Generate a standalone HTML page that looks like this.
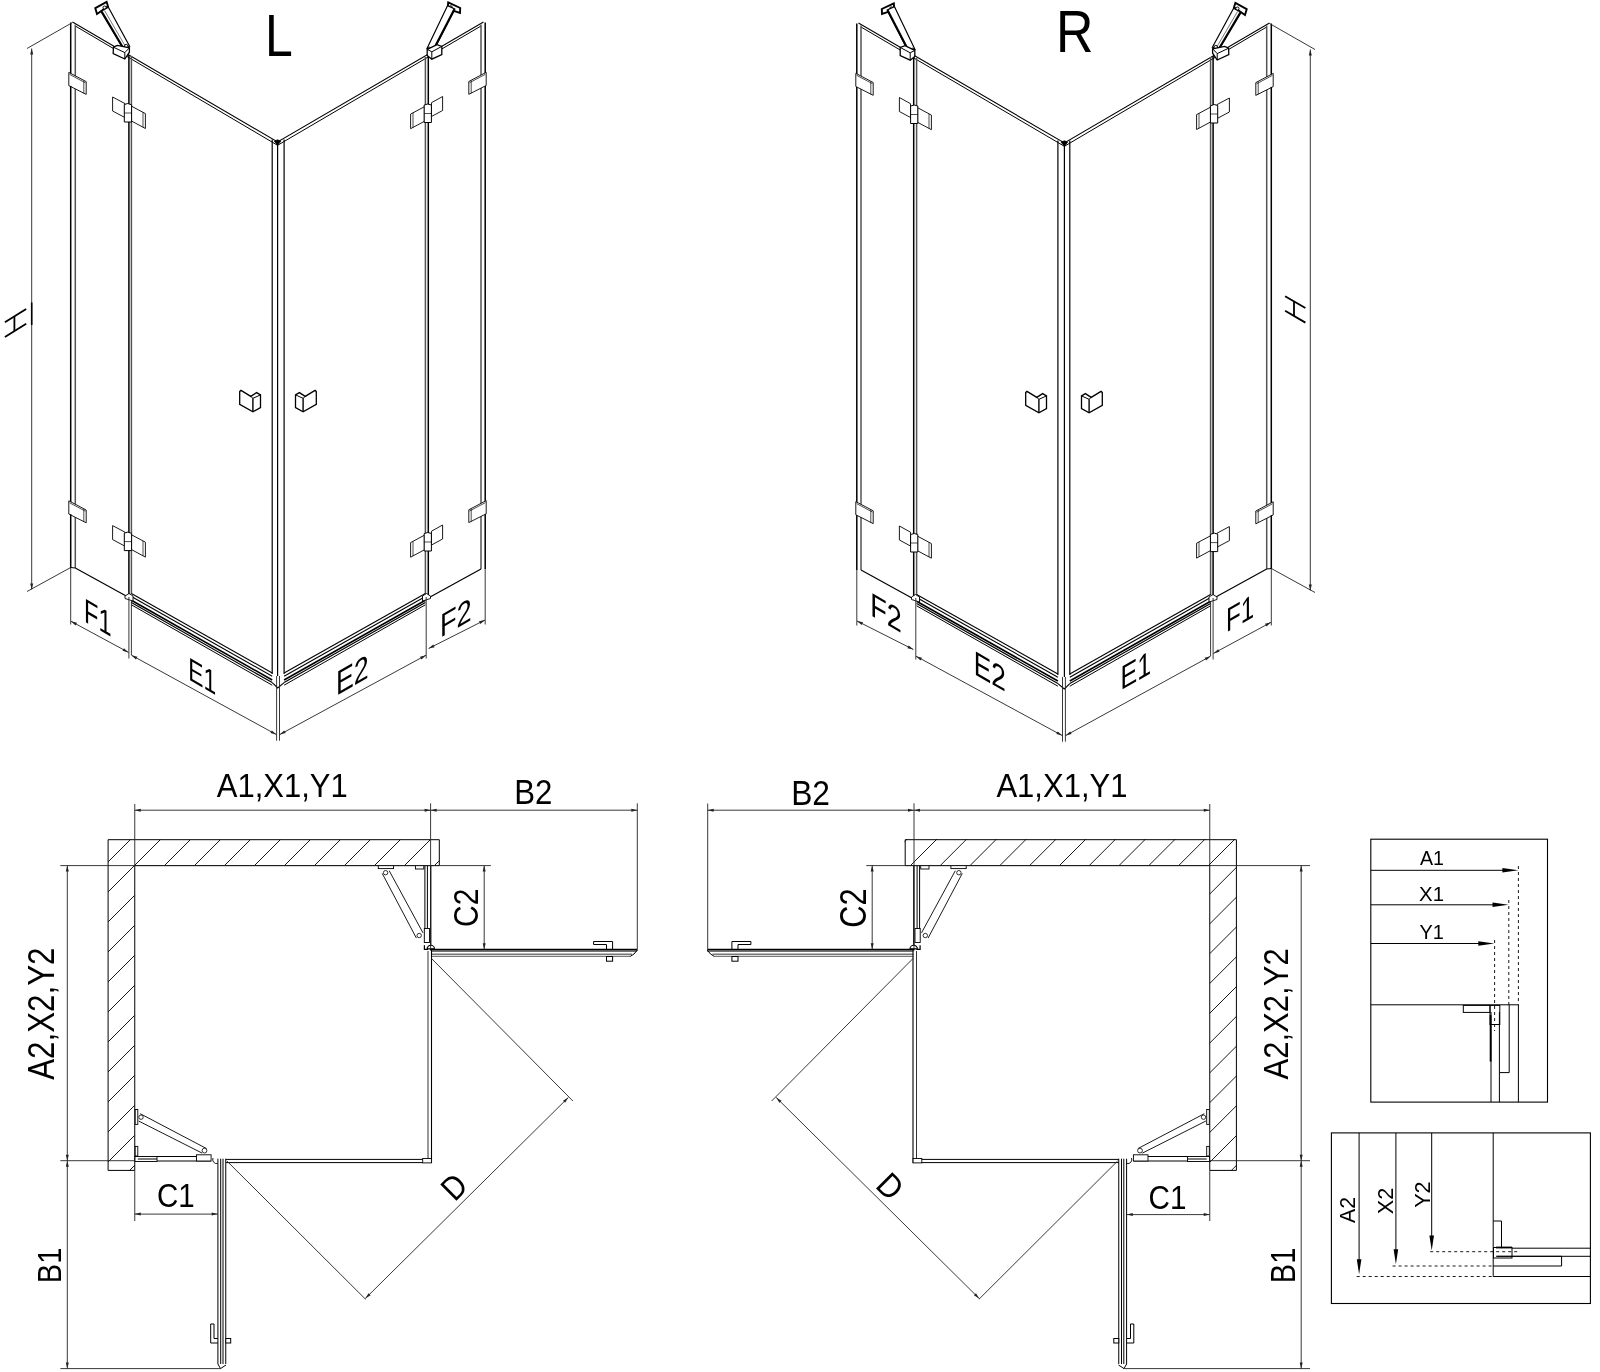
<!DOCTYPE html>
<html><head><meta charset="utf-8"><style>
html,body{margin:0;padding:0;background:#fff;width:1600px;height:1372px;overflow:hidden}
svg{display:block;will-change:transform}
text{font-family:"Liberation Sans",sans-serif}
</style></head><body>
<svg width="1600" height="1372" viewBox="0 0 1600 1372">
<rect width="1600" height="1372" fill="#fff"/>
<g stroke-linecap="butt" stroke-linejoin="miter">
<g><polyline points="72.50,22.00 277.60,142.00 483.50,22.00" fill="none" stroke="#000" stroke-width="1.05"/><polyline points="75.30,26.00 277.60,145.30 481.00,26.00" fill="none" stroke="#000" stroke-width="1.0"/><polygon points="274.40,141.20 277.60,139.80 280.80,141.20 277.60,145.20" fill="#000" stroke="#000" stroke-width="0.8"/><line x1="70.7" y1="22.5" x2="70.7" y2="568" stroke="#000" stroke-width="1.5"/><line x1="75.3" y1="24.5" x2="75.3" y2="568" stroke="#555" stroke-width="1.5"/><line x1="128.9" y1="55" x2="128.9" y2="597" stroke="#000" stroke-width="1.5"/><line x1="131.4" y1="56" x2="131.4" y2="594" stroke="#555" stroke-width="1.5"/><line x1="272.2" y1="139.5" x2="272.2" y2="674" stroke="#000" stroke-width="1.2"/><line x1="277.6" y1="142" x2="277.6" y2="676" stroke="#000" stroke-width="1.2"/><line x1="284.1" y1="139.5" x2="284.1" y2="674" stroke="#000" stroke-width="1.2"/><line x1="425.4" y1="57" x2="425.4" y2="597" stroke="#555" stroke-width="1.5"/><line x1="428.3" y1="56" x2="428.3" y2="597" stroke="#000" stroke-width="1.5"/><line x1="481.0" y1="24.5" x2="481.0" y2="569" stroke="#555" stroke-width="1.5"/><line x1="485.2" y1="22.5" x2="485.2" y2="569" stroke="#000" stroke-width="1.5"/><line x1="75.3" y1="568" x2="128.9" y2="597.5" stroke="#000" stroke-width="1.2"/><line x1="70.7" y1="567.5" x2="75.3" y2="568" stroke="#000" stroke-width="1.2"/><line x1="481.0" y1="569" x2="428.3" y2="598" stroke="#000" stroke-width="1.2"/><line x1="131.4" y1="593.5" x2="272.2" y2="672.9" stroke="#000" stroke-width="1.1"/><line x1="131.4" y1="596.5" x2="272.2" y2="676.2" stroke="#000" stroke-width="1.1"/><line x1="131.4" y1="600.2" x2="272.2" y2="680.0" stroke="#000" stroke-width="1.6"/><line x1="131.4" y1="602.6" x2="272.2" y2="682.6" stroke="#000" stroke-width="1.2"/><line x1="131.4" y1="604.8" x2="272.2" y2="685.2" stroke="#000" stroke-width="1.0"/><polyline points="272.20,682.60 277.70,688.00 284.10,682.60" fill="none" stroke="#000" stroke-width="1.1"/><line x1="425.4" y1="593.5" x2="284.1" y2="672.9" stroke="#000" stroke-width="1.1"/><line x1="425.4" y1="596.5" x2="284.1" y2="676.2" stroke="#000" stroke-width="1.1"/><line x1="425.4" y1="600.2" x2="284.1" y2="680.0" stroke="#000" stroke-width="1.6"/><line x1="425.4" y1="602.6" x2="284.1" y2="682.6" stroke="#000" stroke-width="1.2"/><line x1="425.4" y1="604.8" x2="284.1" y2="685.2" stroke="#000" stroke-width="1.0"/><polygon points="125.00,596.00 129.00,593.50 133.00,596.00 133.00,601.00 125.00,598.50" fill="#fff" stroke="#000" stroke-width="0.9"/><polygon points="430.50,596.00 426.50,593.50 422.50,596.00 422.50,601.00 430.50,598.50" fill="#fff" stroke="#000" stroke-width="0.9"/><line x1="70.7" y1="568" x2="70.7" y2="624.5" stroke="#222" stroke-width="0.9"/><line x1="128.9" y1="597" x2="128.9" y2="658.5" stroke="#222" stroke-width="0.9"/><line x1="131.4" y1="601" x2="131.4" y2="655" stroke="#222" stroke-width="0.9"/><line x1="276.6" y1="676" x2="276.6" y2="740.7" stroke="#222" stroke-width="0.9"/><line x1="279.5" y1="676" x2="279.5" y2="740.7" stroke="#222" stroke-width="0.9"/><line x1="426.2" y1="597" x2="426.2" y2="658.5" stroke="#222" stroke-width="0.9"/><line x1="485.2" y1="569" x2="485.2" y2="624.5" stroke="#222" stroke-width="0.9"/><line x1="27" y1="48.5" x2="72.5" y2="22.5" stroke="#222" stroke-width="0.9"/><line x1="27" y1="591.5" x2="70.7" y2="567.5" stroke="#222" stroke-width="0.9"/><line x1="31.7" y1="48.5" x2="31.7" y2="589.5" stroke="#222" stroke-width="0.9"/><polygon points="31.70,48.50 33.20,54.50 30.20,54.50" fill="#222"/><polygon points="31.70,589.50 30.20,583.50 33.20,583.50" fill="#222"/><line x1="71" y1="621.3" x2="128.5" y2="652.4" stroke="#222" stroke-width="0.9"/><polygon points="71.00,621.30 76.99,622.84 75.56,625.47" fill="#222"/><polygon points="128.50,652.40 122.51,650.86 123.94,648.23" fill="#222"/><line x1="131.4" y1="655.2" x2="276.4" y2="734.6" stroke="#222" stroke-width="0.9"/><polygon points="131.40,655.20 137.38,656.77 135.94,659.40" fill="#222"/><polygon points="276.40,734.60 270.42,733.03 271.86,730.40" fill="#222"/><line x1="279.7" y1="734.6" x2="426" y2="655.2" stroke="#222" stroke-width="0.9"/><polygon points="279.70,734.60 284.26,730.42 285.69,733.06" fill="#222"/><polygon points="426.00,655.20 421.44,659.38 420.01,656.74" fill="#222"/><line x1="428.6" y1="648.5" x2="485" y2="620" stroke="#222" stroke-width="0.9"/><polygon points="428.60,648.50 433.28,644.46 434.63,647.13" fill="#222"/><polygon points="485.00,620.00 480.32,624.04 478.97,621.37" fill="#222"/><polygon points="68.80,72.40 86.20,81.60 86.20,94.40 68.80,85.60" fill="#fff" stroke="#000" stroke-width="0.9"/><line x1="83.8" y1="80.60000000000001" x2="83.8" y2="93.4" stroke="#000" stroke-width="0.7"/><line x1="69.6" y1="74.4" x2="85.4" y2="82.80000000000001" stroke="#000" stroke-width="0.7"/><line x1="70.7" y1="85.9" x2="70.7" y2="86.9" stroke="#000" stroke-width="1.5"/><polygon points="68.80,500.80 86.20,510.00 86.20,522.80 68.80,514.00" fill="#fff" stroke="#000" stroke-width="0.9"/><line x1="83.8" y1="509.0" x2="83.8" y2="521.8" stroke="#000" stroke-width="0.7"/><line x1="69.6" y1="502.8" x2="85.4" y2="511.2" stroke="#000" stroke-width="0.7"/><line x1="70.7" y1="514.3" x2="70.7" y2="515.3" stroke="#000" stroke-width="1.5"/><polygon points="112.60,97.00 125.00,103.60 125.00,117.60 112.60,111.00" fill="#fff" stroke="#000" stroke-width="0.9"/><polygon points="131.50,106.20 145.40,113.60 145.40,128.50 131.50,121.00" fill="#fff" stroke="#000" stroke-width="0.9"/><line x1="143" y1="112.3" x2="143" y2="127.2" stroke="#000" stroke-width="0.7"/><polygon points="124.30,104.50 127.80,103.50 131.60,104.80 131.60,122.00 124.30,122.00" fill="#fff" stroke="#000" stroke-width="1.0"/><line x1="124.3" y1="113" x2="131.6" y2="113" stroke="#000" stroke-width="0.7"/><polygon points="112.60,525.60 125.00,532.20 125.00,546.20 112.60,539.60" fill="#fff" stroke="#000" stroke-width="0.9"/><polygon points="131.50,534.80 145.40,542.20 145.40,557.10 131.50,549.60" fill="#fff" stroke="#000" stroke-width="0.9"/><line x1="143" y1="540.9" x2="143" y2="555.8000000000001" stroke="#000" stroke-width="0.7"/><polygon points="124.30,533.10 127.80,532.10 131.60,533.40 131.60,550.60 124.30,550.60" fill="#fff" stroke="#000" stroke-width="1.0"/><line x1="124.3" y1="541.6" x2="131.6" y2="541.6" stroke="#000" stroke-width="0.7"/><polygon points="486.20,72.30 468.80,81.50 468.80,94.30 486.20,85.50" fill="#fff" stroke="#000" stroke-width="0.9"/><line x1="471.2" y1="80.5" x2="471.2" y2="93.3" stroke="#000" stroke-width="0.7"/><line x1="485.4" y1="74.3" x2="469.6" y2="82.7" stroke="#000" stroke-width="0.7"/><polygon points="486.20,500.60 468.80,509.80 468.80,522.60 486.20,513.80" fill="#fff" stroke="#000" stroke-width="0.9"/><line x1="471.2" y1="508.8" x2="471.2" y2="521.6" stroke="#000" stroke-width="0.7"/><line x1="485.4" y1="502.6" x2="469.6" y2="511.0" stroke="#000" stroke-width="0.7"/><polygon points="442.60,96.50 431.50,102.70 431.50,116.50 442.60,110.50" fill="#fff" stroke="#000" stroke-width="0.9"/><polygon points="424.40,106.70 410.60,114.10 410.60,128.70 424.40,121.30" fill="#fff" stroke="#000" stroke-width="0.9"/><line x1="413" y1="112.8" x2="413" y2="127.5" stroke="#000" stroke-width="0.7"/><polygon points="424.20,105.00 427.80,104.00 431.40,105.00 431.40,122.50 424.20,122.50" fill="#fff" stroke="#000" stroke-width="1.0"/><line x1="424.2" y1="113.5" x2="431.4" y2="113.5" stroke="#000" stroke-width="0.7"/><polygon points="442.60,525.00 431.50,531.20 431.50,545.00 442.60,539.00" fill="#fff" stroke="#000" stroke-width="0.9"/><polygon points="424.40,535.20 410.60,542.60 410.60,557.20 424.40,549.80" fill="#fff" stroke="#000" stroke-width="0.9"/><line x1="413" y1="541.3" x2="413" y2="556" stroke="#000" stroke-width="0.7"/><polygon points="424.20,533.50 427.80,532.50 431.40,533.50 431.40,551.00 424.20,551.00" fill="#fff" stroke="#000" stroke-width="1.0"/><line x1="424.2" y1="542" x2="431.4" y2="542" stroke="#000" stroke-width="0.7"/><polygon points="95.30,8.20 106.60,1.80 108.00,6.40 97.00,14.00" fill="#fff" stroke="#000" stroke-width="1.9"/><circle cx="104.6" cy="7.6" r="1.6" fill="#fff" stroke="#000" stroke-width="1.0"/><polygon points="101.20,11.20 108.40,7.20 129.60,46.30 122.40,47.20" fill="#fff" stroke="#000" stroke-width="1.2"/><line x1="101.6" y1="11.6" x2="122.6" y2="47.0" stroke="#000" stroke-width="2.2"/><line x1="104.5" y1="10.5" x2="125.5" y2="46.5" stroke="#555" stroke-width="0.8"/><circle cx="126.2" cy="46.2" r="1.8" fill="#fff" stroke="#000" stroke-width="1.0"/><polygon points="113.40,47.20 117.40,45.40 129.40,47.80 129.40,52.20 124.80,59.00 113.20,53.60" fill="#fff" stroke="#000" stroke-width="1.3"/><line x1="113.4" y1="47.2" x2="124.8" y2="52.6" stroke="#000" stroke-width="1.0"/><line x1="124.8" y1="52.6" x2="129.4" y2="47.8" stroke="#000" stroke-width="1.0"/><line x1="124.8" y1="52.6" x2="124.8" y2="59.0" stroke="#000" stroke-width="1.0"/><polygon points="448.20,2.40 460.20,8.00 460.00,13.00 447.60,8.80" fill="#fff" stroke="#000" stroke-width="1.9"/><circle cx="450.6" cy="7.4" r="1.6" fill="#fff" stroke="#000" stroke-width="1.0"/><polygon points="447.60,5.60 454.80,9.00 434.00,49.60 427.00,48.60" fill="#fff" stroke="#000" stroke-width="1.2"/><line x1="454.4" y1="9.2" x2="433.6" y2="49.4" stroke="#000" stroke-width="2.2"/><circle cx="429.6" cy="49.0" r="1.8" fill="#fff" stroke="#000" stroke-width="1.0"/><polygon points="427.20,49.40 437.00,44.60 441.80,46.40 441.80,54.60 431.80,59.20 427.20,55.40" fill="#fff" stroke="#000" stroke-width="1.3"/><line x1="427.2" y1="49.4" x2="431.8" y2="51.8" stroke="#000" stroke-width="1.0"/><line x1="431.8" y1="51.8" x2="441.8" y2="46.4" stroke="#000" stroke-width="1.0"/><line x1="431.8" y1="51.8" x2="431.8" y2="59.2" stroke="#000" stroke-width="1.0"/><polygon points="239.70,391.60 241.00,390.40 250.80,396.40 256.60,392.60 260.50,394.90 260.50,407.60 252.90,411.80 239.70,404.30" fill="#fff" stroke="#000" stroke-width="1.3"/><polyline points="250.80,396.40 252.90,398.30 260.50,394.90" fill="none" stroke="#000" stroke-width="1.0"/><line x1="252.9" y1="398.3" x2="252.9" y2="411.8" stroke="#000" stroke-width="1.4"/><polygon points="316.30,391.60 315.00,390.40 305.20,396.40 299.40,392.60 295.50,394.90 295.50,407.60 303.10,411.80 316.30,404.30" fill="#fff" stroke="#000" stroke-width="1.3"/><polyline points="305.20,396.40 303.10,398.30 295.50,394.90" fill="none" stroke="#000" stroke-width="1.0"/><line x1="303.1" y1="398.3" x2="303.1" y2="411.8" stroke="#000" stroke-width="1.4"/></g>
<g transform="translate(1342,1) scale(-1,1)"><polyline points="72.50,22.00 277.60,142.00 483.50,22.00" fill="none" stroke="#000" stroke-width="1.05"/><polyline points="75.30,26.00 277.60,145.30 481.00,26.00" fill="none" stroke="#000" stroke-width="1.0"/><polygon points="274.40,141.20 277.60,139.80 280.80,141.20 277.60,145.20" fill="#000" stroke="#000" stroke-width="0.8"/><line x1="70.7" y1="22.5" x2="70.7" y2="568" stroke="#000" stroke-width="1.5"/><line x1="75.3" y1="24.5" x2="75.3" y2="568" stroke="#555" stroke-width="1.5"/><line x1="128.9" y1="55" x2="128.9" y2="597" stroke="#000" stroke-width="1.5"/><line x1="131.4" y1="56" x2="131.4" y2="594" stroke="#555" stroke-width="1.5"/><line x1="272.2" y1="139.5" x2="272.2" y2="674" stroke="#000" stroke-width="1.2"/><line x1="277.6" y1="142" x2="277.6" y2="676" stroke="#000" stroke-width="1.2"/><line x1="284.1" y1="139.5" x2="284.1" y2="674" stroke="#000" stroke-width="1.2"/><line x1="425.4" y1="57" x2="425.4" y2="597" stroke="#555" stroke-width="1.5"/><line x1="428.3" y1="56" x2="428.3" y2="597" stroke="#000" stroke-width="1.5"/><line x1="481.0" y1="24.5" x2="481.0" y2="569" stroke="#555" stroke-width="1.5"/><line x1="485.2" y1="22.5" x2="485.2" y2="569" stroke="#000" stroke-width="1.5"/><line x1="75.3" y1="568" x2="128.9" y2="597.5" stroke="#000" stroke-width="1.2"/><line x1="70.7" y1="567.5" x2="75.3" y2="568" stroke="#000" stroke-width="1.2"/><line x1="481.0" y1="569" x2="428.3" y2="598" stroke="#000" stroke-width="1.2"/><line x1="131.4" y1="593.5" x2="272.2" y2="672.9" stroke="#000" stroke-width="1.1"/><line x1="131.4" y1="596.5" x2="272.2" y2="676.2" stroke="#000" stroke-width="1.1"/><line x1="131.4" y1="600.2" x2="272.2" y2="680.0" stroke="#000" stroke-width="1.6"/><line x1="131.4" y1="602.6" x2="272.2" y2="682.6" stroke="#000" stroke-width="1.2"/><line x1="131.4" y1="604.8" x2="272.2" y2="685.2" stroke="#000" stroke-width="1.0"/><polyline points="272.20,682.60 277.70,688.00 284.10,682.60" fill="none" stroke="#000" stroke-width="1.1"/><line x1="425.4" y1="593.5" x2="284.1" y2="672.9" stroke="#000" stroke-width="1.1"/><line x1="425.4" y1="596.5" x2="284.1" y2="676.2" stroke="#000" stroke-width="1.1"/><line x1="425.4" y1="600.2" x2="284.1" y2="680.0" stroke="#000" stroke-width="1.6"/><line x1="425.4" y1="602.6" x2="284.1" y2="682.6" stroke="#000" stroke-width="1.2"/><line x1="425.4" y1="604.8" x2="284.1" y2="685.2" stroke="#000" stroke-width="1.0"/><polygon points="125.00,596.00 129.00,593.50 133.00,596.00 133.00,601.00 125.00,598.50" fill="#fff" stroke="#000" stroke-width="0.9"/><polygon points="430.50,596.00 426.50,593.50 422.50,596.00 422.50,601.00 430.50,598.50" fill="#fff" stroke="#000" stroke-width="0.9"/><line x1="70.7" y1="568" x2="70.7" y2="624.5" stroke="#222" stroke-width="0.9"/><line x1="128.9" y1="597" x2="128.9" y2="658.5" stroke="#222" stroke-width="0.9"/><line x1="131.4" y1="601" x2="131.4" y2="655" stroke="#222" stroke-width="0.9"/><line x1="276.6" y1="676" x2="276.6" y2="740.7" stroke="#222" stroke-width="0.9"/><line x1="279.5" y1="676" x2="279.5" y2="740.7" stroke="#222" stroke-width="0.9"/><line x1="426.2" y1="597" x2="426.2" y2="658.5" stroke="#222" stroke-width="0.9"/><line x1="485.2" y1="569" x2="485.2" y2="624.5" stroke="#222" stroke-width="0.9"/><line x1="27" y1="48.5" x2="72.5" y2="22.5" stroke="#222" stroke-width="0.9"/><line x1="27" y1="591.5" x2="70.7" y2="567.5" stroke="#222" stroke-width="0.9"/><line x1="31.7" y1="48.5" x2="31.7" y2="589.5" stroke="#222" stroke-width="0.9"/><polygon points="31.70,48.50 33.20,54.50 30.20,54.50" fill="#222"/><polygon points="31.70,589.50 30.20,583.50 33.20,583.50" fill="#222"/><line x1="71" y1="621.3" x2="128.5" y2="652.4" stroke="#222" stroke-width="0.9"/><polygon points="71.00,621.30 76.99,622.84 75.56,625.47" fill="#222"/><polygon points="128.50,652.40 122.51,650.86 123.94,648.23" fill="#222"/><line x1="131.4" y1="655.2" x2="276.4" y2="734.6" stroke="#222" stroke-width="0.9"/><polygon points="131.40,655.20 137.38,656.77 135.94,659.40" fill="#222"/><polygon points="276.40,734.60 270.42,733.03 271.86,730.40" fill="#222"/><line x1="279.7" y1="734.6" x2="426" y2="655.2" stroke="#222" stroke-width="0.9"/><polygon points="279.70,734.60 284.26,730.42 285.69,733.06" fill="#222"/><polygon points="426.00,655.20 421.44,659.38 420.01,656.74" fill="#222"/><line x1="428.6" y1="648.5" x2="485" y2="620" stroke="#222" stroke-width="0.9"/><polygon points="428.60,648.50 433.28,644.46 434.63,647.13" fill="#222"/><polygon points="485.00,620.00 480.32,624.04 478.97,621.37" fill="#222"/><polygon points="68.80,72.40 86.20,81.60 86.20,94.40 68.80,85.60" fill="#fff" stroke="#000" stroke-width="0.9"/><line x1="83.8" y1="80.60000000000001" x2="83.8" y2="93.4" stroke="#000" stroke-width="0.7"/><line x1="69.6" y1="74.4" x2="85.4" y2="82.80000000000001" stroke="#000" stroke-width="0.7"/><line x1="70.7" y1="85.9" x2="70.7" y2="86.9" stroke="#000" stroke-width="1.5"/><polygon points="68.80,500.80 86.20,510.00 86.20,522.80 68.80,514.00" fill="#fff" stroke="#000" stroke-width="0.9"/><line x1="83.8" y1="509.0" x2="83.8" y2="521.8" stroke="#000" stroke-width="0.7"/><line x1="69.6" y1="502.8" x2="85.4" y2="511.2" stroke="#000" stroke-width="0.7"/><line x1="70.7" y1="514.3" x2="70.7" y2="515.3" stroke="#000" stroke-width="1.5"/><polygon points="112.60,97.00 125.00,103.60 125.00,117.60 112.60,111.00" fill="#fff" stroke="#000" stroke-width="0.9"/><polygon points="131.50,106.20 145.40,113.60 145.40,128.50 131.50,121.00" fill="#fff" stroke="#000" stroke-width="0.9"/><line x1="143" y1="112.3" x2="143" y2="127.2" stroke="#000" stroke-width="0.7"/><polygon points="124.30,104.50 127.80,103.50 131.60,104.80 131.60,122.00 124.30,122.00" fill="#fff" stroke="#000" stroke-width="1.0"/><line x1="124.3" y1="113" x2="131.6" y2="113" stroke="#000" stroke-width="0.7"/><polygon points="112.60,525.60 125.00,532.20 125.00,546.20 112.60,539.60" fill="#fff" stroke="#000" stroke-width="0.9"/><polygon points="131.50,534.80 145.40,542.20 145.40,557.10 131.50,549.60" fill="#fff" stroke="#000" stroke-width="0.9"/><line x1="143" y1="540.9" x2="143" y2="555.8000000000001" stroke="#000" stroke-width="0.7"/><polygon points="124.30,533.10 127.80,532.10 131.60,533.40 131.60,550.60 124.30,550.60" fill="#fff" stroke="#000" stroke-width="1.0"/><line x1="124.3" y1="541.6" x2="131.6" y2="541.6" stroke="#000" stroke-width="0.7"/><polygon points="486.20,72.30 468.80,81.50 468.80,94.30 486.20,85.50" fill="#fff" stroke="#000" stroke-width="0.9"/><line x1="471.2" y1="80.5" x2="471.2" y2="93.3" stroke="#000" stroke-width="0.7"/><line x1="485.4" y1="74.3" x2="469.6" y2="82.7" stroke="#000" stroke-width="0.7"/><polygon points="486.20,500.60 468.80,509.80 468.80,522.60 486.20,513.80" fill="#fff" stroke="#000" stroke-width="0.9"/><line x1="471.2" y1="508.8" x2="471.2" y2="521.6" stroke="#000" stroke-width="0.7"/><line x1="485.4" y1="502.6" x2="469.6" y2="511.0" stroke="#000" stroke-width="0.7"/><polygon points="442.60,96.50 431.50,102.70 431.50,116.50 442.60,110.50" fill="#fff" stroke="#000" stroke-width="0.9"/><polygon points="424.40,106.70 410.60,114.10 410.60,128.70 424.40,121.30" fill="#fff" stroke="#000" stroke-width="0.9"/><line x1="413" y1="112.8" x2="413" y2="127.5" stroke="#000" stroke-width="0.7"/><polygon points="424.20,105.00 427.80,104.00 431.40,105.00 431.40,122.50 424.20,122.50" fill="#fff" stroke="#000" stroke-width="1.0"/><line x1="424.2" y1="113.5" x2="431.4" y2="113.5" stroke="#000" stroke-width="0.7"/><polygon points="442.60,525.00 431.50,531.20 431.50,545.00 442.60,539.00" fill="#fff" stroke="#000" stroke-width="0.9"/><polygon points="424.40,535.20 410.60,542.60 410.60,557.20 424.40,549.80" fill="#fff" stroke="#000" stroke-width="0.9"/><line x1="413" y1="541.3" x2="413" y2="556" stroke="#000" stroke-width="0.7"/><polygon points="424.20,533.50 427.80,532.50 431.40,533.50 431.40,551.00 424.20,551.00" fill="#fff" stroke="#000" stroke-width="1.0"/><line x1="424.2" y1="542" x2="431.4" y2="542" stroke="#000" stroke-width="0.7"/><polygon points="95.30,8.20 106.60,1.80 108.00,6.40 97.00,14.00" fill="#fff" stroke="#000" stroke-width="1.9"/><circle cx="104.6" cy="7.6" r="1.6" fill="#fff" stroke="#000" stroke-width="1.0"/><polygon points="101.20,11.20 108.40,7.20 129.60,46.30 122.40,47.20" fill="#fff" stroke="#000" stroke-width="1.2"/><line x1="101.6" y1="11.6" x2="122.6" y2="47.0" stroke="#000" stroke-width="2.2"/><line x1="104.5" y1="10.5" x2="125.5" y2="46.5" stroke="#555" stroke-width="0.8"/><circle cx="126.2" cy="46.2" r="1.8" fill="#fff" stroke="#000" stroke-width="1.0"/><polygon points="113.40,47.20 117.40,45.40 129.40,47.80 129.40,52.20 124.80,59.00 113.20,53.60" fill="#fff" stroke="#000" stroke-width="1.3"/><line x1="113.4" y1="47.2" x2="124.8" y2="52.6" stroke="#000" stroke-width="1.0"/><line x1="124.8" y1="52.6" x2="129.4" y2="47.8" stroke="#000" stroke-width="1.0"/><line x1="124.8" y1="52.6" x2="124.8" y2="59.0" stroke="#000" stroke-width="1.0"/><polygon points="448.20,2.40 460.20,8.00 460.00,13.00 447.60,8.80" fill="#fff" stroke="#000" stroke-width="1.9"/><circle cx="450.6" cy="7.4" r="1.6" fill="#fff" stroke="#000" stroke-width="1.0"/><polygon points="447.60,5.60 454.80,9.00 434.00,49.60 427.00,48.60" fill="#fff" stroke="#000" stroke-width="1.2"/><line x1="454.4" y1="9.2" x2="433.6" y2="49.4" stroke="#000" stroke-width="2.2"/><circle cx="429.6" cy="49.0" r="1.8" fill="#fff" stroke="#000" stroke-width="1.0"/><polygon points="427.20,49.40 437.00,44.60 441.80,46.40 441.80,54.60 431.80,59.20 427.20,55.40" fill="#fff" stroke="#000" stroke-width="1.3"/><line x1="427.2" y1="49.4" x2="431.8" y2="51.8" stroke="#000" stroke-width="1.0"/><line x1="431.8" y1="51.8" x2="441.8" y2="46.4" stroke="#000" stroke-width="1.0"/><line x1="431.8" y1="51.8" x2="431.8" y2="59.2" stroke="#000" stroke-width="1.0"/><polygon points="239.70,391.60 241.00,390.40 250.80,396.40 256.60,392.60 260.50,394.90 260.50,407.60 252.90,411.80 239.70,404.30" fill="#fff" stroke="#000" stroke-width="1.3"/><polyline points="250.80,396.40 252.90,398.30 260.50,394.90" fill="none" stroke="#000" stroke-width="1.0"/><line x1="252.9" y1="398.3" x2="252.9" y2="411.8" stroke="#000" stroke-width="1.4"/><polygon points="316.30,391.60 315.00,390.40 305.20,396.40 299.40,392.60 295.50,394.90 295.50,407.60 303.10,411.80 316.30,404.30" fill="#fff" stroke="#000" stroke-width="1.3"/><polyline points="305.20,396.40 303.10,398.30 295.50,394.90" fill="none" stroke="#000" stroke-width="1.0"/><line x1="303.1" y1="398.3" x2="303.1" y2="411.8" stroke="#000" stroke-width="1.4"/></g>
<g><polygon points="108.10,839.70 439.30,839.70 439.30,865.60 134.75,865.60 134.75,1170.40 108.10,1170.40" fill="none" stroke="#000" stroke-width="1.0"/><line x1="424.9" y1="865.6" x2="424.9" y2="942.5" stroke="#000" stroke-width="1.0"/><line x1="427.4" y1="865.6" x2="427.4" y2="942.5" stroke="#000" stroke-width="1.0"/><rect x="424.30" y="928.50" width="5.20" height="14.00" fill="#fff" stroke="#000" stroke-width="0.9"/><rect x="415.50" y="865.60" width="8.30" height="3.40" fill="#fff" stroke="#000" stroke-width="0.9"/><rect x="378.30" y="865.60" width="15.30" height="3.00" fill="#fff" stroke="#000" stroke-width="0.9"/><line x1="382.2" y1="873.4" x2="416.4" y2="938.1" stroke="#000" stroke-width="0.9"/><line x1="389.2" y1="870.7" x2="423" y2="932.9" stroke="#000" stroke-width="0.9"/><circle cx="385.6" cy="872.7" r="2.2" fill="#fff" stroke="#000" stroke-width="0.8"/><circle cx="419.2" cy="935.5" r="2.2" fill="#fff" stroke="#000" stroke-width="0.8"/><line x1="430.7" y1="865.6" x2="430.7" y2="945" stroke="#000" stroke-width="1.3"/><polyline points="424.40,945.20 424.40,949.40 428.00,949.40" fill="none" stroke="#000" stroke-width="1.2"/><path d="M427.1,948.9 A3.7,3.7 0 0 1 434.5,948.9 Z" fill="#fff" stroke="#000" stroke-width="1.1"/><line x1="430" y1="949.6" x2="637" y2="949.6" stroke="#000" stroke-width="1.7"/><line x1="431" y1="951.2" x2="637" y2="951.2" stroke="#000" stroke-width="0.8"/><line x1="431" y1="954.2" x2="632" y2="954.2" stroke="#777" stroke-width="1.6"/><line x1="431" y1="956.3" x2="630" y2="956.3" stroke="#444" stroke-width="0.9"/><polyline points="630.00,956.50 634.00,954.00 637.30,950.00" fill="none" stroke="#000" stroke-width="1.0"/><polyline points="593.60,941.50 612.60,941.50 612.60,949.50" fill="none" stroke="#000" stroke-width="1.0"/><polyline points="593.60,941.50 593.60,944.50 606.50,944.50 606.50,949.50" fill="none" stroke="#000" stroke-width="1.0"/><rect x="606.50" y="956.50" width="6.10" height="4.70" fill="#fff" stroke="#000" stroke-width="1.0"/><line x1="428.0" y1="951" x2="428.0" y2="1162.9" stroke="#333" stroke-width="1.0"/><line x1="431.5" y1="950" x2="431.5" y2="1162.9" stroke="#000" stroke-width="1.1"/><rect x="422.70" y="1158.50" width="8.70" height="4.40" fill="#fff" stroke="#000" stroke-width="0.9"/><line x1="225.75" y1="1159.4" x2="422.7" y2="1159.4" stroke="#000" stroke-width="1.0"/><line x1="225.75" y1="1162.6" x2="422.7" y2="1162.6" stroke="#000" stroke-width="1.0"/><line x1="135" y1="1156.5" x2="211" y2="1156.5" stroke="#000" stroke-width="1.0"/><line x1="135" y1="1161" x2="211" y2="1161" stroke="#000" stroke-width="1.0"/><rect x="135.00" y="1156.50" width="22.00" height="5.00" fill="#fff" stroke="#000" stroke-width="0.9"/><line x1="137.8" y1="1159" x2="157" y2="1159" stroke="#000" stroke-width="1.0"/><rect x="196.50" y="1154.80" width="14.60" height="6.20" fill="#fff" stroke="#000" stroke-width="0.9"/><rect x="135.20" y="1146.40" width="2.60" height="9.60" fill="#fff" stroke="#000" stroke-width="0.9"/><rect x="135.20" y="1109.50" width="2.60" height="14.90" fill="#fff" stroke="#000" stroke-width="0.9"/><line x1="140.2" y1="1113.7" x2="206.6" y2="1148.6" stroke="#000" stroke-width="0.9"/><line x1="138.6" y1="1121" x2="202.1" y2="1153.1" stroke="#000" stroke-width="0.9"/><circle cx="141" cy="1117.2" r="2.2" fill="#fff" stroke="#000" stroke-width="0.8"/><circle cx="204.5" cy="1150.6" r="2.4" fill="#fff" stroke="#000" stroke-width="0.8"/><path d="M213,1158 A4,4 0 0 0 217.5,1163.5" fill="none" stroke="#000" stroke-width="0.9"/><line x1="217.9" y1="1158.7" x2="217.9" y2="1364" stroke="#000" stroke-width="1.0"/><line x1="220.7" y1="1158.7" x2="220.7" y2="1364" stroke="#000" stroke-width="1.0"/><line x1="223.0" y1="1158.7" x2="223.0" y2="1364" stroke="#000" stroke-width="1.0"/><line x1="225.75" y1="1158.7" x2="225.75" y2="1364" stroke="#000" stroke-width="1.0"/><polyline points="217.90,1364.00 220.50,1368.60 226.00,1365.00" fill="none" stroke="#000" stroke-width="1.0"/><polyline points="210.70,1324.00 214.00,1324.00 214.00,1338.50 217.90,1338.50" fill="none" stroke="#000" stroke-width="1.0"/><line x1="210.7" y1="1324" x2="210.7" y2="1343" stroke="#000" stroke-width="1.0"/><line x1="210.7" y1="1343" x2="217.9" y2="1343" stroke="#000" stroke-width="1.0"/><rect x="225.75" y="1338.50" width="4.95" height="4.50" fill="#fff" stroke="#000" stroke-width="1.0"/></g>
<g transform="translate(1344.5,0) scale(-1,1)"><polygon points="108.10,839.70 439.30,839.70 439.30,865.60 134.75,865.60 134.75,1170.40 108.10,1170.40" fill="none" stroke="#000" stroke-width="1.0"/><line x1="424.9" y1="865.6" x2="424.9" y2="942.5" stroke="#000" stroke-width="1.0"/><line x1="427.4" y1="865.6" x2="427.4" y2="942.5" stroke="#000" stroke-width="1.0"/><rect x="424.30" y="928.50" width="5.20" height="14.00" fill="#fff" stroke="#000" stroke-width="0.9"/><rect x="415.50" y="865.60" width="8.30" height="3.40" fill="#fff" stroke="#000" stroke-width="0.9"/><rect x="378.30" y="865.60" width="15.30" height="3.00" fill="#fff" stroke="#000" stroke-width="0.9"/><line x1="382.2" y1="873.4" x2="416.4" y2="938.1" stroke="#000" stroke-width="0.9"/><line x1="389.2" y1="870.7" x2="423" y2="932.9" stroke="#000" stroke-width="0.9"/><circle cx="385.6" cy="872.7" r="2.2" fill="#fff" stroke="#000" stroke-width="0.8"/><circle cx="419.2" cy="935.5" r="2.2" fill="#fff" stroke="#000" stroke-width="0.8"/><line x1="430.7" y1="865.6" x2="430.7" y2="945" stroke="#000" stroke-width="1.3"/><polyline points="424.40,945.20 424.40,949.40 428.00,949.40" fill="none" stroke="#000" stroke-width="1.2"/><path d="M427.1,948.9 A3.7,3.7 0 0 1 434.5,948.9 Z" fill="#fff" stroke="#000" stroke-width="1.1"/><line x1="430" y1="949.6" x2="637" y2="949.6" stroke="#000" stroke-width="1.7"/><line x1="431" y1="951.2" x2="637" y2="951.2" stroke="#000" stroke-width="0.8"/><line x1="431" y1="954.2" x2="632" y2="954.2" stroke="#777" stroke-width="1.6"/><line x1="431" y1="956.3" x2="630" y2="956.3" stroke="#444" stroke-width="0.9"/><polyline points="630.00,956.50 634.00,954.00 637.30,950.00" fill="none" stroke="#000" stroke-width="1.0"/><polyline points="593.60,941.50 612.60,941.50 612.60,949.50" fill="none" stroke="#000" stroke-width="1.0"/><polyline points="593.60,941.50 593.60,944.50 606.50,944.50 606.50,949.50" fill="none" stroke="#000" stroke-width="1.0"/><rect x="606.50" y="956.50" width="6.10" height="4.70" fill="#fff" stroke="#000" stroke-width="1.0"/><line x1="428.0" y1="951" x2="428.0" y2="1162.9" stroke="#333" stroke-width="1.0"/><line x1="431.5" y1="950" x2="431.5" y2="1162.9" stroke="#000" stroke-width="1.1"/><rect x="422.70" y="1158.50" width="8.70" height="4.40" fill="#fff" stroke="#000" stroke-width="0.9"/><line x1="225.75" y1="1159.4" x2="422.7" y2="1159.4" stroke="#000" stroke-width="1.0"/><line x1="225.75" y1="1162.6" x2="422.7" y2="1162.6" stroke="#000" stroke-width="1.0"/><line x1="135" y1="1156.5" x2="211" y2="1156.5" stroke="#000" stroke-width="1.0"/><line x1="135" y1="1161" x2="211" y2="1161" stroke="#000" stroke-width="1.0"/><rect x="135.00" y="1156.50" width="22.00" height="5.00" fill="#fff" stroke="#000" stroke-width="0.9"/><line x1="137.8" y1="1159" x2="157" y2="1159" stroke="#000" stroke-width="1.0"/><rect x="196.50" y="1154.80" width="14.60" height="6.20" fill="#fff" stroke="#000" stroke-width="0.9"/><rect x="135.20" y="1146.40" width="2.60" height="9.60" fill="#fff" stroke="#000" stroke-width="0.9"/><rect x="135.20" y="1109.50" width="2.60" height="14.90" fill="#fff" stroke="#000" stroke-width="0.9"/><line x1="140.2" y1="1113.7" x2="206.6" y2="1148.6" stroke="#000" stroke-width="0.9"/><line x1="138.6" y1="1121" x2="202.1" y2="1153.1" stroke="#000" stroke-width="0.9"/><circle cx="141" cy="1117.2" r="2.2" fill="#fff" stroke="#000" stroke-width="0.8"/><circle cx="204.5" cy="1150.6" r="2.4" fill="#fff" stroke="#000" stroke-width="0.8"/><path d="M213,1158 A4,4 0 0 0 217.5,1163.5" fill="none" stroke="#000" stroke-width="0.9"/><line x1="217.9" y1="1158.7" x2="217.9" y2="1364" stroke="#000" stroke-width="1.0"/><line x1="220.7" y1="1158.7" x2="220.7" y2="1364" stroke="#000" stroke-width="1.0"/><line x1="223.0" y1="1158.7" x2="223.0" y2="1364" stroke="#000" stroke-width="1.0"/><line x1="225.75" y1="1158.7" x2="225.75" y2="1364" stroke="#000" stroke-width="1.0"/><polyline points="217.90,1364.00 220.50,1368.60 226.00,1365.00" fill="none" stroke="#000" stroke-width="1.0"/><polyline points="210.70,1324.00 214.00,1324.00 214.00,1338.50 217.90,1338.50" fill="none" stroke="#000" stroke-width="1.0"/><line x1="210.7" y1="1324" x2="210.7" y2="1343" stroke="#000" stroke-width="1.0"/><line x1="210.7" y1="1343" x2="217.9" y2="1343" stroke="#000" stroke-width="1.0"/><rect x="225.75" y="1338.50" width="4.95" height="4.50" fill="#fff" stroke="#000" stroke-width="1.0"/></g>
<g><clipPath id="wallL"><polygon points="108.1,839.7 439.3,839.7 439.3,865.6 134.75,865.6 134.75,1170.4 108.1,1170.4"/></clipPath><g clip-path="url(#wallL)"><line x1="-260" y1="1200" x2="110" y2="830" stroke="#000" stroke-width="0.9"/><line x1="-230" y1="1200" x2="140" y2="830" stroke="#000" stroke-width="0.9"/><line x1="-200" y1="1200" x2="170" y2="830" stroke="#000" stroke-width="0.9"/><line x1="-170" y1="1200" x2="200" y2="830" stroke="#000" stroke-width="0.9"/><line x1="-140" y1="1200" x2="230" y2="830" stroke="#000" stroke-width="0.9"/><line x1="-110" y1="1200" x2="260" y2="830" stroke="#000" stroke-width="0.9"/><line x1="-80" y1="1200" x2="290" y2="830" stroke="#000" stroke-width="0.9"/><line x1="-50" y1="1200" x2="320" y2="830" stroke="#000" stroke-width="0.9"/><line x1="-20" y1="1200" x2="350" y2="830" stroke="#000" stroke-width="0.9"/><line x1="10" y1="1200" x2="380" y2="830" stroke="#000" stroke-width="0.9"/><line x1="40" y1="1200" x2="410" y2="830" stroke="#000" stroke-width="0.9"/><line x1="70" y1="1200" x2="440" y2="830" stroke="#000" stroke-width="0.9"/><line x1="100" y1="1200" x2="470" y2="830" stroke="#000" stroke-width="0.9"/><line x1="130" y1="1200" x2="500" y2="830" stroke="#000" stroke-width="0.9"/><line x1="160" y1="1200" x2="530" y2="830" stroke="#000" stroke-width="0.9"/></g><clipPath id="wallR"><polygon points="904.6,839.3 1236.5,839.3 1236.5,1170.4 1209.75,1170.4 1209.75,865.6 904.6,865.6"/></clipPath><g clip-path="url(#wallR)"><line x1="516.4000000000001" y1="1200" x2="886.4000000000001" y2="830" stroke="#000" stroke-width="0.9"/><line x1="546.2" y1="1200" x2="916.2" y2="830" stroke="#000" stroke-width="0.9"/><line x1="576.0" y1="1200" x2="946.0" y2="830" stroke="#000" stroke-width="0.9"/><line x1="605.8" y1="1200" x2="975.8" y2="830" stroke="#000" stroke-width="0.9"/><line x1="635.5999999999999" y1="1200" x2="1005.5999999999999" y2="830" stroke="#000" stroke-width="0.9"/><line x1="665.4000000000001" y1="1200" x2="1035.4" y2="830" stroke="#000" stroke-width="0.9"/><line x1="695.2" y1="1200" x2="1065.2" y2="830" stroke="#000" stroke-width="0.9"/><line x1="725.0" y1="1200" x2="1095.0" y2="830" stroke="#000" stroke-width="0.9"/><line x1="754.8" y1="1200" x2="1124.8" y2="830" stroke="#000" stroke-width="0.9"/><line x1="784.5999999999999" y1="1200" x2="1154.6" y2="830" stroke="#000" stroke-width="0.9"/><line x1="814.4000000000001" y1="1200" x2="1184.4" y2="830" stroke="#000" stroke-width="0.9"/><line x1="844.2" y1="1200" x2="1214.2" y2="830" stroke="#000" stroke-width="0.9"/><line x1="874.0" y1="1200" x2="1244.0" y2="830" stroke="#000" stroke-width="0.9"/><line x1="903.8000000000002" y1="1200" x2="1273.8000000000002" y2="830" stroke="#000" stroke-width="0.9"/><line x1="933.5999999999999" y1="1200" x2="1303.6" y2="830" stroke="#000" stroke-width="0.9"/><line x1="963.4000000000001" y1="1200" x2="1333.4" y2="830" stroke="#000" stroke-width="0.9"/><line x1="993.1999999999998" y1="1200" x2="1363.1999999999998" y2="830" stroke="#000" stroke-width="0.9"/><line x1="1023.0" y1="1200" x2="1393.0" y2="830" stroke="#000" stroke-width="0.9"/><line x1="1052.8000000000002" y1="1200" x2="1422.8000000000002" y2="830" stroke="#000" stroke-width="0.9"/><line x1="1082.6" y1="1200" x2="1452.6" y2="830" stroke="#000" stroke-width="0.9"/><line x1="1112.4" y1="1200" x2="1482.4" y2="830" stroke="#000" stroke-width="0.9"/><line x1="1142.1999999999998" y1="1200" x2="1512.1999999999998" y2="830" stroke="#000" stroke-width="0.9"/><line x1="1172.0" y1="1200" x2="1542.0" y2="830" stroke="#000" stroke-width="0.9"/><line x1="1201.8000000000002" y1="1200" x2="1571.8000000000002" y2="830" stroke="#000" stroke-width="0.9"/><line x1="1231.6" y1="1200" x2="1601.6" y2="830" stroke="#000" stroke-width="0.9"/><line x1="1261.4" y1="1200" x2="1631.4" y2="830" stroke="#000" stroke-width="0.9"/></g></g>
<g><line x1="134.75" y1="804" x2="134.75" y2="865.6" stroke="#222" stroke-width="0.9"/><line x1="430.6" y1="803.3" x2="430.6" y2="949" stroke="#222" stroke-width="0.9"/><line x1="637.3" y1="803.3" x2="637.3" y2="950.8" stroke="#222" stroke-width="0.9"/><line x1="134.75" y1="810.2" x2="430.6" y2="810.2" stroke="#222" stroke-width="0.9"/><polygon points="134.75,810.20 140.75,808.70 140.75,811.70" fill="#222"/><polygon points="430.60,810.20 424.60,811.70 424.60,808.70" fill="#222"/><line x1="430.6" y1="810.2" x2="637.3" y2="810.2" stroke="#222" stroke-width="0.9"/><polygon points="430.60,810.20 436.60,808.70 436.60,811.70" fill="#222"/><polygon points="637.30,810.20 631.30,811.70 631.30,808.70" fill="#222"/><line x1="60.3" y1="865.6" x2="490.9" y2="865.6" stroke="#222" stroke-width="0.9"/><line x1="60.4" y1="1160.7" x2="135" y2="1160.7" stroke="#222" stroke-width="0.9"/><line x1="60.4" y1="1368.6" x2="220.4" y2="1368.6" stroke="#222" stroke-width="0.9"/><line x1="67.3" y1="865.6" x2="67.3" y2="1160.7" stroke="#222" stroke-width="0.9"/><polygon points="67.30,865.60 68.80,871.60 65.80,871.60" fill="#222"/><polygon points="67.30,1160.70 65.80,1154.70 68.80,1154.70" fill="#222"/><line x1="67.3" y1="1160.7" x2="67.3" y2="1368.6" stroke="#222" stroke-width="0.9"/><polygon points="67.30,1160.70 68.80,1166.70 65.80,1166.70" fill="#222"/><polygon points="67.30,1368.60 65.80,1362.60 68.80,1362.60" fill="#222"/><line x1="484.2" y1="865.6" x2="484.2" y2="949.2" stroke="#222" stroke-width="0.9"/><polygon points="484.20,865.60 485.70,871.60 482.70,871.60" fill="#222"/><polygon points="484.20,949.20 482.70,943.20 485.70,943.20" fill="#222"/><line x1="134.75" y1="1170.4" x2="134.75" y2="1221" stroke="#222" stroke-width="0.9"/><line x1="134.75" y1="1214.1" x2="217.7" y2="1214.1" stroke="#222" stroke-width="0.9"/><polygon points="134.75,1214.10 140.75,1212.60 140.75,1215.60" fill="#222"/><polygon points="217.70,1214.10 211.70,1215.60 211.70,1212.60" fill="#222"/><line x1="431.2" y1="958.2" x2="572.9" y2="1101" stroke="#222" stroke-width="0.9"/><line x1="226.9" y1="1161" x2="365.6" y2="1299.3" stroke="#222" stroke-width="0.9"/><line x1="568.3" y1="1097.5" x2="365.3" y2="1298.5" stroke="#222" stroke-width="0.9"/><polygon points="568.30,1097.50 565.09,1102.79 562.98,1100.66" fill="#222"/><polygon points="365.30,1298.50 368.51,1293.21 370.62,1295.34" fill="#222"/></g>
<g><line x1="707.7" y1="803.5" x2="707.7" y2="951.5" stroke="#222" stroke-width="0.9"/><line x1="914.0" y1="803.3" x2="914.0" y2="949" stroke="#222" stroke-width="0.9"/><line x1="1209.75" y1="804" x2="1209.75" y2="865.6" stroke="#222" stroke-width="0.9"/><line x1="707.7" y1="810.2" x2="914.0" y2="810.2" stroke="#222" stroke-width="0.9"/><polygon points="707.70,810.20 713.70,808.70 713.70,811.70" fill="#222"/><polygon points="914.00,810.20 908.00,811.70 908.00,808.70" fill="#222"/><line x1="914.0" y1="810.2" x2="1209.75" y2="810.2" stroke="#222" stroke-width="0.9"/><polygon points="914.00,810.20 920.00,808.70 920.00,811.70" fill="#222"/><polygon points="1209.75,810.20 1203.75,811.70 1203.75,808.70" fill="#222"/><line x1="866.3" y1="865.6" x2="1310" y2="865.6" stroke="#222" stroke-width="0.9"/><line x1="1209.75" y1="1160.7" x2="1310" y2="1160.7" stroke="#222" stroke-width="0.9"/><line x1="1124" y1="1368.6" x2="1310" y2="1368.6" stroke="#222" stroke-width="0.9"/><line x1="1301.2" y1="865.6" x2="1301.2" y2="1160.7" stroke="#222" stroke-width="0.9"/><polygon points="1301.20,865.60 1302.70,871.60 1299.70,871.60" fill="#222"/><polygon points="1301.20,1160.70 1299.70,1154.70 1302.70,1154.70" fill="#222"/><line x1="1301.2" y1="1160.7" x2="1301.2" y2="1368.6" stroke="#222" stroke-width="0.9"/><polygon points="1301.20,1160.70 1302.70,1166.70 1299.70,1166.70" fill="#222"/><polygon points="1301.20,1368.60 1299.70,1362.60 1302.70,1362.60" fill="#222"/><line x1="872.2" y1="865.6" x2="872.2" y2="949.2" stroke="#222" stroke-width="0.9"/><polygon points="872.20,865.60 873.70,871.60 870.70,871.60" fill="#222"/><polygon points="872.20,949.20 870.70,943.20 873.70,943.20" fill="#222"/><line x1="1209.75" y1="1170.4" x2="1209.75" y2="1221" stroke="#222" stroke-width="0.9"/><line x1="1126.8" y1="1214.6" x2="1209.75" y2="1214.6" stroke="#222" stroke-width="0.9"/><polygon points="1126.80,1214.60 1132.80,1213.10 1132.80,1216.10" fill="#222"/><polygon points="1209.75,1214.60 1203.75,1216.10 1203.75,1213.10" fill="#222"/><line x1="913.3" y1="958.2" x2="771.6" y2="1101" stroke="#222" stroke-width="0.9"/><line x1="1117.6" y1="1161" x2="978.9" y2="1299.3" stroke="#222" stroke-width="0.9"/><line x1="776.2" y1="1097.5" x2="979.2" y2="1298.5" stroke="#222" stroke-width="0.9"/><polygon points="776.20,1097.50 781.52,1100.66 779.41,1102.79" fill="#222"/><polygon points="979.20,1298.50 973.88,1295.34 975.99,1293.21" fill="#222"/></g>
<g><rect x="1370.80" y="839.20" width="176.70" height="262.90" fill="none" stroke="#000" stroke-width="1.1"/><line x1="1370.8" y1="870.3" x2="1508.4" y2="870.3" stroke="#000" stroke-width="1.0"/><polygon points="1518.40,870.30 1502.40,872.60 1502.40,868.00" fill="#000"/><line x1="1370.8" y1="904.8" x2="1498.5" y2="904.8" stroke="#000" stroke-width="1.0"/><polygon points="1508.50,904.80 1492.50,907.10 1492.50,902.50" fill="#000"/><line x1="1370.8" y1="943.5" x2="1484.3" y2="943.5" stroke="#000" stroke-width="1.0"/><polygon points="1494.30,943.50 1478.30,945.80 1478.30,941.20" fill="#000"/><line x1="1518.4" y1="866" x2="1518.4" y2="1004.8" stroke="#000" stroke-width="0.9" stroke-dasharray="3,3"/><line x1="1508.8" y1="900" x2="1508.8" y2="1004.8" stroke="#000" stroke-width="0.9" stroke-dasharray="3,3"/><line x1="1494.6" y1="940" x2="1494.6" y2="1031" stroke="#000" stroke-width="0.9" stroke-dasharray="3,3"/><line x1="1370.8" y1="1004.8" x2="1518.4" y2="1004.8" stroke="#000" stroke-width="1.0"/><line x1="1518.4" y1="1004.8" x2="1518.4" y2="1102.1" stroke="#000" stroke-width="1.0"/><polyline points="1509.20,1004.80 1509.20,1072.60 1499.80,1072.60" fill="none" stroke="#000" stroke-width="1.0"/><line x1="1491" y1="1012" x2="1491" y2="1102.1" stroke="#000" stroke-width="1.0"/><line x1="1499.4" y1="1012" x2="1499.4" y2="1102.1" stroke="#000" stroke-width="1.0"/><rect x="1463.30" y="1005.40" width="26.70" height="7.00" fill="none" stroke="#000" stroke-width="1.0"/><rect x="1490.00" y="1005.40" width="9.80" height="19.10" fill="none" stroke="#000" stroke-width="1.0"/><line x1="1490.6" y1="1015" x2="1490.6" y2="1061.6" stroke="#000" stroke-width="1.8"/><rect x="1331.40" y="1132.90" width="259.00" height="170.60" fill="none" stroke="#000" stroke-width="1.1"/><line x1="1359.1" y1="1132.9" x2="1359.1" y2="1264.3" stroke="#000" stroke-width="1.0"/><polygon points="1359.10,1274.30 1356.80,1259.30 1361.40,1259.30" fill="#000"/><line x1="1395.9" y1="1132.9" x2="1395.9" y2="1254.2" stroke="#000" stroke-width="1.0"/><polygon points="1395.90,1264.20 1393.60,1249.20 1398.20,1249.20" fill="#000"/><line x1="1431.7" y1="1132.9" x2="1431.7" y2="1240.4" stroke="#000" stroke-width="1.0"/><polygon points="1431.70,1250.40 1429.40,1235.40 1434.00,1235.40" fill="#000"/><line x1="1356.7" y1="1276.5" x2="1492.7" y2="1276.5" stroke="#000" stroke-width="0.9" stroke-dasharray="3,3"/><line x1="1392.6" y1="1266" x2="1492.7" y2="1266" stroke="#000" stroke-width="0.9" stroke-dasharray="3,3"/><line x1="1430.2" y1="1251.7" x2="1519.3" y2="1251.7" stroke="#000" stroke-width="0.9" stroke-dasharray="3,3"/><line x1="1493.2" y1="1132.9" x2="1493.2" y2="1276.5" stroke="#000" stroke-width="1.0"/><line x1="1493.2" y1="1276.5" x2="1590.4" y2="1276.5" stroke="#000" stroke-width="1.0"/><line x1="1512" y1="1248.2" x2="1590.4" y2="1248.2" stroke="#000" stroke-width="1.0"/><line x1="1496.4" y1="1256.3" x2="1590.4" y2="1256.3" stroke="#000" stroke-width="1.0"/><polyline points="1493.20,1221.00 1501.50,1221.00 1501.50,1248.20" fill="none" stroke="#000" stroke-width="1.0"/><polyline points="1496.40,1256.30 1561.60,1256.30 1561.60,1266.00 1493.20,1266.00" fill="none" stroke="#000" stroke-width="1.0"/><rect x="1493.50" y="1247.50" width="18.50" height="10.50" fill="none" stroke="#000" stroke-width="1.0"/><line x1="1496" y1="1247.5" x2="1512" y2="1247.5" stroke="#000" stroke-width="1.8"/></g>
<g><line x1="31.7" y1="302.5" x2="31.7" y2="325" stroke="#000" stroke-width="1.6"/><g stroke="#000" stroke-width="1.8" fill="none"><line x1="4.9" y1="322.2" x2="26.2" y2="309.1"/><line x1="4.9" y1="336.9" x2="26.2" y2="323.8"/><line x1="14.4" y1="316.6" x2="14.4" y2="331"/></g><g stroke="#000" stroke-width="1.8" fill="none"><line x1="1285.1" y1="296.2" x2="1305.4" y2="308"/><line x1="1285.1" y1="310.8" x2="1305.4" y2="322.6"/><line x1="1294" y1="301.4" x2="1294" y2="316"/></g></g>
</g>
<g font-family="Liberation Sans" fill="#000" style="font-kerning:none"><text transform="matrix(0.49896 0.00000 0.00000 0.59594 264.907 56.000)" font-size="100" stroke="#000" stroke-width="0.00">L</text><text transform="matrix(0.51874 0.00000 0.00000 0.59013 1055.945 52.000)" font-size="100" stroke="#000" stroke-width="0.00">R</text><text transform="matrix(0.23549 0.13608 0.00000 0.34012 84.068 621.284)" font-size="100" stroke="#000" stroke-width="0.00">F1</text><text transform="matrix(0.22796 0.13183 0.00000 0.32413 188.230 679.219)" font-size="100" stroke="#000" stroke-width="0.00">E1</text><text transform="matrix(0.26769 -0.15401 0.00000 0.34012 335.904 695.963)" font-size="100" stroke="#000" stroke-width="0.00">E2</text><text transform="matrix(0.27255 -0.15754 0.00000 0.32559 439.964 638.092)" font-size="100" stroke="#000" stroke-width="0.00">F2</text><text transform="matrix(0.27062 0.15657 0.00000 0.33431 870.280 614.916)" font-size="100" stroke="#000" stroke-width="0.00">F2</text><text transform="matrix(0.26127 0.15035 0.00000 0.34012 973.857 673.767)" font-size="100" stroke="#000" stroke-width="0.00">E2</text><text transform="matrix(0.25085 -0.14465 0.00000 0.33431 1120.542 690.587)" font-size="100" stroke="#000" stroke-width="0.00">E1</text><text transform="matrix(0.24128 -0.13898 0.00000 0.33431 1226.021 632.840)" font-size="100" stroke="#000" stroke-width="0.00">F1</text><text transform="matrix(0.30999 0.00000 0.00000 0.32849 216.839 796.600)" font-size="100" stroke="#000" stroke-width="0.00">A1,X1,Y1</text><text transform="matrix(0.31169 0.00000 0.00000 0.34448 514.143 804.300)" font-size="100" stroke="#000" stroke-width="0.00">B2</text><text transform="matrix(0.00000 -0.30070 0.35611 0.00000 477.600 926.927)" font-size="100" stroke="#000" stroke-width="0.00">C2</text><text transform="matrix(0.00000 -0.31322 0.36192 0.00000 53.700 1079.761)" font-size="100" stroke="#000" stroke-width="0.00">A2,X2,Y2</text><text transform="matrix(0.29524 0.00000 0.00000 0.32413 156.901 1207.200)" font-size="100" stroke="#000" stroke-width="0.00">C1</text><text transform="matrix(0.00000 -0.29022 0.33722 0.00000 61.100 1283.181)" font-size="100" stroke="#000" stroke-width="0.00">B1</text><text transform="matrix(0.20598 -0.20598 0.23547 0.23838 454.810 1202.390)" font-size="100" stroke="#000" stroke-width="0.00">D</text><text transform="matrix(0.31023 0.00000 0.00000 0.32704 996.439 797.000)" font-size="100" stroke="#000" stroke-width="0.00">A1,X1,Y1</text><text transform="matrix(0.31719 0.00000 0.00000 0.35611 791.198 804.700)" font-size="100" stroke="#000" stroke-width="0.00">B2</text><text transform="matrix(0.00000 -0.30750 0.36774 0.00000 866.300 927.762)" font-size="100" stroke="#000" stroke-width="0.00">C2</text><text transform="matrix(0.00000 -0.31082 0.35466 0.00000 1288.100 1079.561)" font-size="100" stroke="#000" stroke-width="0.00">A2,X2,Y2</text><text transform="matrix(0.29693 0.00000 0.00000 0.32704 1148.492 1208.500)" font-size="100" stroke="#000" stroke-width="0.00">C1</text><text transform="matrix(0.00000 -0.29022 0.34448 0.00000 1295.000 1283.181)" font-size="100" stroke="#000" stroke-width="0.00">B1</text><text transform="matrix(0.21442 0.21442 -0.23692 0.23692 874.241 1186.641)" font-size="100" stroke="#000" stroke-width="0.00">D</text><text transform="matrix(0.19618 0.00000 0.00000 0.20640 1419.962 864.800)" font-size="100" stroke="#000" stroke-width="0.00">A1</text><text transform="matrix(0.20402 0.00000 0.00000 0.20640 1419.042 900.900)" font-size="100" stroke="#000" stroke-width="0.00">X1</text><text transform="matrix(0.19959 0.00000 0.00000 0.20640 1419.561 939.200)" font-size="100" stroke="#000" stroke-width="0.00">Y1</text><text transform="matrix(0.00000 -0.21266 0.22093 0.00000 1354.500 1222.942)" font-size="100" stroke="#000" stroke-width="0.00">A2</text><text transform="matrix(0.00000 -0.21558 0.21803 0.00000 1392.500 1214.184)" font-size="100" stroke="#000" stroke-width="0.00">X2</text><text transform="matrix(0.00000 -0.21549 0.22529 0.00000 1429.700 1207.773)" font-size="100" stroke="#000" stroke-width="0.00">Y2</text></g>
</svg>
</body></html>
